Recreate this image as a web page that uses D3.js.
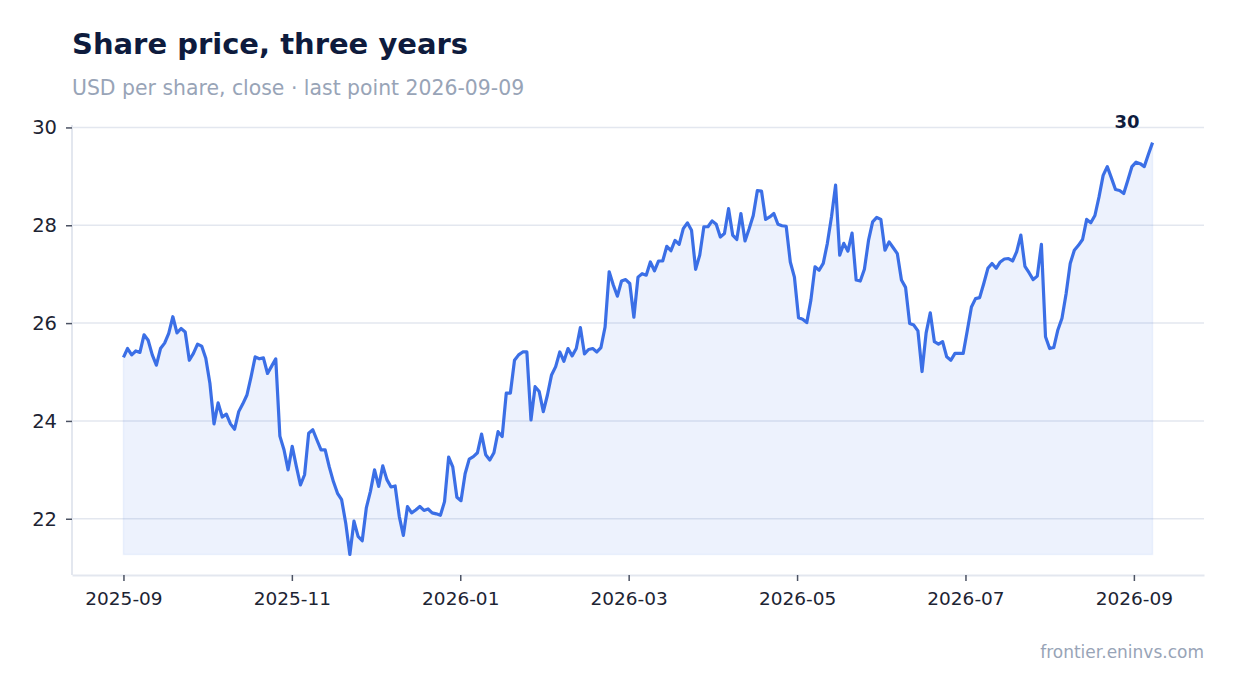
<!DOCTYPE html>
<html>
<head>
<meta charset="utf-8">
<script src="https://cdn.jsdelivr.net/npm/d3@7"></script>
<style>
  body { margin: 0; background: #fff; }
  text { font-family: "DejaVu Sans", sans-serif; }
</style>
</head>
<body>
<svg id="chart" width="1234" height="693"></svg>
<script>
// chart text
const title = "Share price, three years";
const subtitle = "USD per share, close \u00b7 last point 2026-09-09";
const source = "frontier.eninvs.com";

// first and last trading day shown
const firstDate = "2025-09-02";
const lastDate = "2026-09-09";

// axis ticks
const yTicks = [22, 24, 26, 28, 30];
const xTickLabels = ["2025-09", "2025-11", "2026-01", "2026-03", "2026-05", "2026-07", "2026-09"];

// daily closes (Sep 2025 -> Sep 2026)
const closes = [
  25.30, 25.48, 25.35, 25.43, 25.40, 25.76, 25.65, 25.35, 25.14, 25.48,
  25.59, 25.79, 26.13, 25.80, 25.89, 25.82, 25.24, 25.38, 25.57, 25.53,
  25.28, 24.77, 23.94, 24.37, 24.08, 24.14, 23.94, 23.83, 24.19, 24.35,
  24.53, 24.90, 25.31, 25.27, 25.29, 24.97, 25.12, 25.27,
  23.69, 23.41, 23.00, 23.48, 23.07, 22.69, 22.90, 23.75, 23.82, 23.61,
  23.41, 23.41, 23.06, 22.76, 22.52, 22.39, 21.91, 21.27, 21.95, 21.64,
  21.55, 22.22, 22.56, 23.00, 22.66, 23.08, 22.80, 22.65, 22.67, 22.05,
  21.66, 22.25, 22.12, 22.18, 22.25, 22.17, 22.20, 22.12, 22.10, 22.07,
  22.35, 23.26, 23.06, 22.44, 22.37, 22.92, 23.22,
  23.27, 23.35, 23.73, 23.31, 23.20, 23.35, 23.78, 23.68, 24.57, 24.57,
  25.24, 25.35, 25.41, 25.41, 24.02, 24.70, 24.60, 24.19, 24.53, 24.94,
  25.11, 25.41, 25.22, 25.48, 25.33, 25.48, 25.91, 25.37, 25.46, 25.48,
  25.41, 25.50, 25.92, 27.05, 26.78, 26.55, 26.86, 26.89, 26.81, 26.12,
  26.94,
  27.01, 26.98, 27.25, 27.07, 27.27, 27.27, 27.57, 27.48, 27.69, 27.61,
  27.93, 28.05, 27.90, 27.10, 27.39, 27.97, 27.97, 28.09, 28.02, 27.76,
  27.83, 28.34, 27.80, 27.71, 28.24, 27.68, 27.93, 28.20, 28.71, 28.70,
  28.12, 28.17, 28.24, 28.02, 27.99, 27.98, 27.25, 26.94, 26.11,
  26.08, 26.01, 26.47, 27.15, 27.08, 27.22, 27.63, 28.17, 28.82, 27.39,
  27.63, 27.47, 27.84, 26.88, 26.86, 27.10, 27.69, 28.07, 28.16, 28.12,
  27.49, 27.66, 27.54, 27.42, 26.88, 26.73, 25.99, 25.96, 25.84, 25.01,
  25.80, 26.21, 25.62, 25.57, 25.62, 25.31, 25.24, 25.38, 25.38, 25.38,
  25.85, 26.33, 26.50, 26.52, 26.81, 27.12, 27.22, 27.12, 27.25, 27.31,
  27.32, 27.27, 27.46, 27.80, 27.16, 27.03, 26.89, 26.96, 27.61, 25.72,
  25.48, 25.50, 25.86,
  26.10, 26.60, 27.22, 27.49, 27.59, 27.71, 28.12, 28.05, 28.20, 28.58,
  29.02, 29.20, 28.97, 28.73, 28.71, 28.65, 28.92, 29.20, 29.29, 29.26,
  29.20, 29.45, 29.69
];

var margin = {top: 125, right: 30, bottom: 118, left: 72};
var W = 1234, H = 693;
var width = W - margin.left - margin.right;
var height = H - margin.top - margin.bottom;

var t0 = new Date(firstDate + "T00:00:00Z").getTime();
var t1 = new Date(lastDate + "T00:00:00Z").getTime();
var n = closes.length;
var data = closes.map(function(v, i) {
  return {date: new Date(t0 + i * (t1 - t0) / (n - 1)), close: v};
});

// 5% padding either side of the date range
var pad = (t1 - t0) * 0.05;
var x = d3.scaleUtc()
  .domain([new Date(t0 - pad), new Date(t1 + pad)])
  .range([0, width]);

var y = d3.scaleLinear()
  .domain([20.85, 30.05])
  .range([height, 0]);

// ticks every two (average) months from the first day
var twoMonths = 2 * 365.25 / 12 * 864e5;
var xTickDates = xTickLabels.map(function(d, i) { return new Date(t0 + i * twoMonths); });

var svg = d3.select("#chart");

svg.append("text")
  .attr("x", margin.left).attr("y", 54)
  .attr("font-size", 29).attr("font-weight", "bold")
  .attr("fill", "#0e1b3d")
  .text(title);

svg.append("text")
  .attr("x", margin.left).attr("y", 95)
  .attr("font-size", 20.4)
  .attr("fill", "#98a4b7")
  .text(subtitle);

svg.append("text")
  .attr("x", W - margin.right).attr("y", 658)
  .attr("text-anchor", "end")
  .attr("font-size", 17)
  .attr("fill", "#98a4b7")
  .text(source);

var g = svg.append("g")
  .attr("transform", "translate(" + margin.left + "," + margin.top + ")");

// horizontal grid
g.selectAll(".grid")
  .data(yTicks)
  .enter().append("line")
  .attr("x1", 0).attr("x2", width)
  .attr("y1", function(d) { return y(d); })
  .attr("y2", function(d) { return y(d); })
  .attr("stroke", "#e3e7ef")
  .attr("stroke-width", 1.5);

var minClose = d3.min(closes);

var area = d3.area()
  .x(function(d) { return x(d.date); })
  .y0(y(minClose))
  .y1(function(d) { return y(d.close); });

g.append("path")
  .datum(data)
  .attr("d", area)
  .attr("fill", "#3b6fe6")
  .attr("fill-opacity", 0.09)
  .attr("stroke", "#3b6fe6")
  .attr("stroke-opacity", 0.07)
  .attr("stroke-width", 1.5);

// axes
var xAxis = g.append("g")
  .attr("transform", "translate(0," + height + ")")
  .call(d3.axisBottom(x)
    .tickValues(xTickDates)
    .tickFormat(function(d, i) { return xTickLabels[i]; })
    .tickSize(6)
    .tickSizeOuter(0)
    .tickPadding(11));

var yAxis = g.append("g")
  .call(d3.axisLeft(y)
    .tickValues(yTicks)
    .tickSize(6)
    .tickSizeOuter(0)
    .tickPadding(9));

[xAxis, yAxis].forEach(function(a) {
  a.select(".domain").attr("stroke", "#e3e7ef").attr("stroke-width", 2);
  a.selectAll(".tick line").attr("stroke", "#4b5263").attr("stroke-width", 1.5);
  a.selectAll(".tick text")
    .attr("font-family", "DejaVu Sans, sans-serif")
    .attr("fill", "#1d2433");
});
xAxis.selectAll(".tick text").attr("font-size", 18.5);
yAxis.selectAll(".tick text").attr("font-size", 19.5);
// the left axis line spans the full plot height
yAxis.select(".domain").attr("d", "M0,0V" + height);

var line = d3.line()
  .x(function(d) { return x(d.date); })
  .y(function(d) { return y(d.close); });

g.append("path")
  .datum(data)
  .attr("d", line)
  .attr("fill", "none")
  .attr("stroke", "#3b6fe6")
  .attr("stroke-width", 3.2)
  .attr("stroke-linejoin", "round");

// last value label
var last = data[n - 1];
g.append("text")
  .attr("x", x(last.date) - 13)
  .attr("y", y(last.close) - 15)
  .attr("text-anchor", "end")
  .attr("font-size", 18).attr("font-weight", "bold")
  .attr("fill", "#0e1b3d")
  .text(d3.format(".0f")(last.close));
</script>
</body>
</html>
